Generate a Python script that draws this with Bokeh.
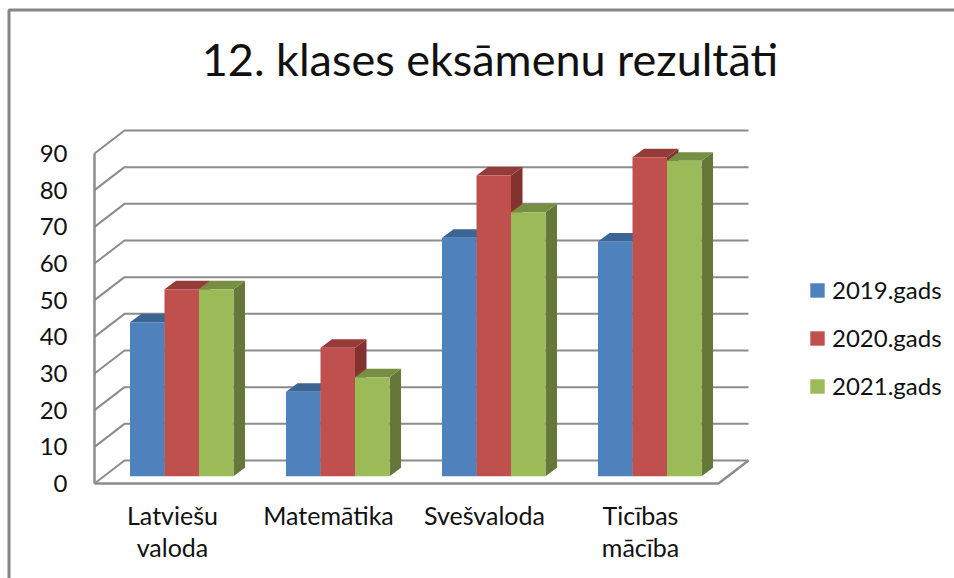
from bokeh.plotting import figure
from bokeh.models import (LinearAxis, FixedTicker, Range1d, Legend, LegendItem, Label)
from bokeh.embed import file_html
from bokeh.resources import INLINE

title = "12. klases eksāmenu rezultāti"
categories = ["Latviešu\nvaloda", "Matemātika", "Svešvaloda", "Ticības\nmācība"]
series = ["2019.gads", "2020.gads", "2021.gads"]
v2019 = [42, 23, 65, 64]
v2020 = [51, 35, 82, 87]
v2021 = [51, 27, 72, 86]
y_ticks = [0, 10, 20, 30, 40, 50, 60, 70, 80, 90]
front = ["#4F81BD", "#C0504D", "#9BBB59"]
tops = ["#3D6594", "#953B39", "#778F43"]
sides = ["#34567F", "#843230", "#65783A"]
GRID = "#8C8C8C"
FONT = "Lato"

W, H = 954, 578
PX = 156.0          # pixels per category
PY = 11 / 3         # pixels per value unit
X0, Y0 = 94, 95     # pixel position of the axes' origin in the figure (from left, from bottom)

x_range = Range1d(-X0 / PX, (W - X0) / PX)
y_range = Range1d(-Y0 / PY, (H - Y0) / PY)

p = figure(width=W, height=H, x_range=x_range, y_range=y_range, output_backend="svg",
           toolbar_location=None, x_axis_location=None, y_axis_location=None,
           min_border=0, outline_line_color=None, background_fill_color="white",
           border_fill_color="white")
p.grid.visible = False

# chart-area frame: top and left edges only
fx = x_range.start + 8.5 / PX
fy = y_range.end - 9.5 / PY
p.line([fx, fx, x_range.end], [y_range.start, fy, fy], line_color="#858585", line_width=3)

# 3-D walls
wall_dx = 30 / PX
wall_dy = 23 / PY
n = len(categories)
gx, gy = [], []
for t in y_ticks:
    gx.append([0, wall_dx, n + wall_dx])
    gy.append([t, t + wall_dy, t + wall_dy])
p.multi_line(gx, gy, line_color=GRID, line_width=2)
p.line([0, n, n + wall_dx], [0, 0, wall_dy], line_color=GRID, line_width=2.5)
p.line([0, 0], [0, y_ticks[-1]], line_color=GRID, line_width=2.5)

# bars
bar_w = 34.5 / PX
start = 35.5 / PX
base = 2.0
depth_x = 11.5 / PX
depth_y = 8.5 / PY
values = [v2019, v2020, v2021]
front_renderers = [None, None, None]
for i in range(n):
    for s, vals in enumerate(values):
        l = i + start + s * bar_w
        r = l + bar_w
        t = base + vals[i]
        p.patch([r, r + depth_x, r + depth_x, r],
                [base, base + depth_y, t + depth_y, t], fill_color=sides[s], line_color=None)
        p.patch([l, l + depth_x, r + depth_x, r],
                [t, t + depth_y, t + depth_y, t], fill_color=tops[s], line_color=None)
        q = p.quad(left=[l], right=[r], bottom=[base], top=[t], fill_color=front[s], line_color=None)
        if i == 0:
            front_renderers[s] = q

# axes
yaxis = LinearAxis(fixed_location=0, ticker=FixedTicker(ticks=y_ticks),
                   axis_line_color=None, major_tick_line_color=None, minor_tick_line_color=None,
                   major_label_standoff=25, major_label_text_font=FONT,
                   major_label_text_font_size="24px", major_label_text_color="#111111")
yaxis.major_label_standoff = 21
p.add_layout(yaxis, "left")

xticks = [i + 0.5 for i in range(n)]
xaxis = LinearAxis(fixed_location=0, ticker=FixedTicker(ticks=xticks),
                   major_label_overrides=dict(zip(xticks, categories)),
                   axis_line_color=None, major_tick_line_color=None, minor_tick_line_color=None,
                   major_label_standoff=10, major_label_text_font=FONT,
                   major_label_text_font_size="25px", major_label_text_color="#111111",
                   major_label_text_line_height=1.09)
p.add_layout(xaxis, "below")

# title
p.add_layout(Label(x=489.5, y=520, x_units="screen", y_units="screen", text=title,
                   text_align="center", text_baseline="middle", text_font=FONT,
                   text_font_size="45px", text_color="#111111"))

# legend
legend = Legend(items=[LegendItem(label=s, renderers=[r]) for s, r in zip(series, front_renderers)],
                location=(808, 178), orientation="vertical", border_line_color=None,
                background_fill_alpha=0, glyph_width=18, glyph_height=18, spacing=19,
                margin=0, padding=0, label_standoff=6,
                label_text_font=FONT, label_text_font_size="24px", label_text_color="#111111")
p.add_layout(legend, "center")

open("out.html", "w").write(file_html(p, INLINE))
